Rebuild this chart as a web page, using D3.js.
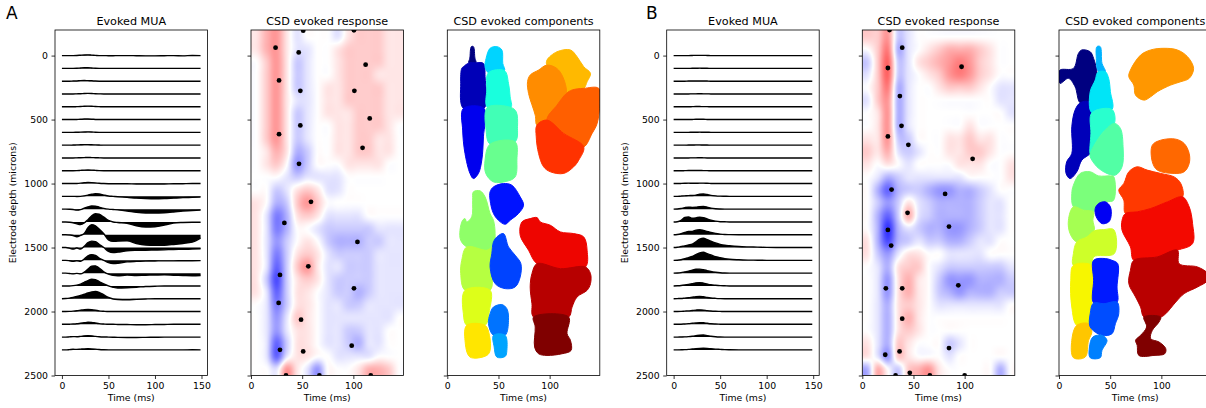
<!DOCTYPE html>
<html>
<head>
<meta charset="utf-8">
<script src="https://cdn.jsdelivr.net/npm/d3@7"></script>
<style>
  body { margin: 0; background: #fff; }
  svg { display: block; }
  text { font-family: "DejaVu Sans", sans-serif; fill: #000; }
</style>
</head>
<body>
<script>
// ---- data ----
const channelDepths = [0,100,200,300,400,500,600,700,800,900,1000,1100,1200,1300,1400,1500,1600,1700,1800,1900,2000,2100,2200,2300];
const depthTicks = [0,500,1000,1500,2000,2500];
const muaTicks = [0,50,100,150];
const csdTicks = [0,50,100];

// MUA sample times (ms) and amplitude per channel (microns, up = positive)
const muaTime = [0,4,8,12,16,20,24,28,32,36,40,45,50,55,60,70,80,90,100,110,120,130,140,149];
const muaA = [
  [0,0,0,0,1,3,5,6,4,2,0,0,-1,-1,0,0,-1,-2,-2,-1,0,-2,1,0],
  [0,0,0,0,1,3,5,5,3,1,0,0,0,0,0,0,0,0,0,0,0,0,0,0],
  [0,0,0,1,2,4,5,4,3,1,0,0,0,0,0,0,0,0,0,0,0,0,0,0],
  [0,0,0,0,1,2,4,5,4,2,1,0,0,0,0,0,0,0,0,0,0,0,0,0],
  [0,0,0,0,1,2,4,5,4,2,1,0,0,0,0,0,0,0,0,0,0,0,0,0],
  [0,0,0,0,1,2,4,4,3,1,0,0,0,0,0,0,0,0,0,0,0,0,0,0],
  [0,0,0,0,1,2,3,4,3,1,0,0,0,0,0,0,0,0,0,0,0,0,0,0],
  [0,0,0,1,2,3,4,4,3,2,1,0,0,0,0,0,0,0,0,0,0,0,0,0],
  [0,0,0,0,1,2,3,4,3,2,1,0,0,0,0,0,0,0,0,0,0,0,0,0],
  [0,0,0,0,1,3,5,6,5,3,1,0,0,0,0,0,0,0,0,0,0,0,0,0],
  [0,0,0,0,1,3,6,8,7,5,2,0,-1,-1,-1,-2,-3,-4,-4,-3,-2,-1,0,0],
  [0,0,0,0,-1,0,4,10,16,20,18,10,3,0,-3,-8,-14,-18,-20,-18,-14,-10,-8,-6],
  [0,0,-1,-3,-8,-4,8,18,25,24,16,6,0,-3,-6,-14,-24,-30,-31,-28,-22,-15,-10,-8],
  [0,0,-2,-6,-15,-21,-8,18,48,64,60,38,12,0,-4,-10,-30,-40,-38,-25,-8,-4,-2,-2],
  [0,0,-2,-6,-16,-5,10,55,78,70,45,8,-40,-52,-50,-48,-68,-80,-83,-82,-76,-68,-58,-26],
  [0,0,-5,-12,-4,-12,10,38,50,45,25,0,-30,-39,-36,-25,-22,-21,-20,-18,-15,-14,-12,-10],
  [0,0,-3,-8,-3,-8,10,35,45,38,18,0,-18,-26,-24,-12,-8,-6,-5,-4,-4,-3,-3,-2],
  [0,0,-3,-6,-2,-6,8,32,55,57,40,10,-8,-18,-21,-15,-18,-16,-15,-14,-16,-18,-20,-18],
  [0,0,0,2,6,14,28,42,52,48,34,15,0,-10,-16,-14,-10,-5,-2,0,0,0,0,0],
  [0,2,5,10,17,25,35,45,53,57,50,30,10,-2,-6,-8,-5,-2,0,0,0,0,0,0],
  [0,0,1,3,6,10,14,16,14,10,5,2,0,0,0,0,0,0,0,0,0,0,0,0],
  [0,0,1,2,4,8,12,16,15,10,5,2,0,0,-1,-2,-3,-3,-2,-1,0,0,0,0],
  [0,0,2,4,3,6,10,12,10,6,3,1,0,-1,-2,-3,-3,-2,-1,0,0,0,0,0],
  [0,0,2,5,4,6,8,9,8,6,3,1,0,0,0,0,0,0,0,0,0,0,1,0]
];
const muaB = [
  [0,0,0,0,0,1,2,2,2,1,0,0,0,0,0,0,0,0,0,0,0,0,0,0],
  [0,0,0,0,0,1,1,2,1,1,0,0,0,0,0,0,0,0,0,0,0,0,0,0],
  [0,0,0,0,1,1,2,2,2,1,0,0,0,0,0,0,0,0,0,0,0,0,0,0],
  [0,0,0,0,0,1,1,2,1,1,0,0,0,0,0,0,0,0,0,0,0,0,0,0],
  [0,0,0,0,0,1,2,2,1,1,0,0,0,0,0,0,0,0,0,0,0,0,0,0],
  [0,0,0,0,0,1,2,2,2,1,0,0,0,0,0,0,0,0,0,0,0,0,0,0],
  [0,0,0,0,0,1,1,2,1,1,0,0,0,0,0,0,0,0,0,0,0,0,0,0],
  [0,0,0,0,1,1,2,2,1,1,0,0,0,0,0,0,0,0,0,0,0,0,0,0],
  [0,0,0,0,0,1,1,2,1,0,0,0,0,0,0,0,0,0,0,0,0,0,0,0],
  [0,0,0,1,2,2,2,2,1,1,0,0,0,0,0,0,0,0,0,0,0,0,0,0],
  [0,0,1,2,3,2,2,3,3,2,1,0,0,0,0,0,0,0,0,0,0,0,0,0],
  [0,0,2,4,6,7,10,16,18,14,8,4,2,1,0,0,0,0,0,0,0,0,0,0],
  [0,1,5,12,16,14,15,20,21,16,8,3,1,0,0,0,0,0,0,0,0,0,0,0],
  [0,2,12,35,39,30,32,37,34,24,14,6,2,1,0,0,0,0,0,0,0,0,0,0],
  [0,2,8,18,26,26,36,39,34,26,18,10,5,2,1,0,0,0,0,0,0,0,0,0],
  [0,2,8,13,20,26,45,65,73,62,50,36,25,18,14,8,5,3,1,0,0,0,0,0],
  [0,1,5,12,21,30,45,58,63,52,42,28,20,13,8,4,2,1,0,0,0,0,0,0],
  [0,1,4,10,16,24,30,31,27,20,13,7,3,1,0,0,0,0,0,0,0,0,0,0],
  [0,1,3,7,12,18,24,26,22,15,9,5,2,1,0,0,0,0,0,0,0,0,0,0],
  [0,1,2,5,8,12,16,18,15,10,6,3,1,0,0,0,0,0,0,0,0,0,0,0],
  [0,0,1,3,5,8,11,13,11,7,4,2,1,0,0,0,0,0,0,0,0,0,0,0],
  [0,0,1,3,5,8,11,13,12,8,4,2,1,0,0,0,0,0,0,0,0,0,0,0],
  [0,0,1,2,4,7,11,15,16,12,7,3,1,0,0,0,0,0,0,0,0,0,0,0],
  [0,0,1,2,4,7,10,12,13,12,9,6,4,2,1,0,0,0,0,0,0,0,0,0]
];

// CSD grid: cell centres in time (ms) and depth (microns), values in tenths (+ red / - blue)
const csdTime = [5,15,25,35,45,55,65,75,85,95,105,115,125,135,145];
const csdDepth = [-150,-50,50,150,250,350,450,550,650,750,850,950,1050,1150,1250,1350,1450,1550,1650,1750,1850,1950,2050,2150,2250,2350,2450];
const csdA = [
  [1,3,4,1,-1,0,0,0,-1,1,2,2,2,1,1],
  [1,3,4,1,-1,-1,0,0,1,2,2,2,2,1,1],
  [0,2,4,1,-2,-1,0,0,1,2,2,2,2,1,1],
  [0,2,4,1,-2,-1,0,0,1,2,2,2,1,1,1],
  [0,2,4,1,-2,-1,0,1,1,2,2,2,2,1,1],
  [0,2,4,1,-1,-1,0,1,1,2,2,2,2,1,1],
  [0,2,4,1,-2,-1,0,1,1,1,2,2,2,1,1],
  [0,2,4,1,-2,-1,0,0,1,1,2,2,2,1,0],
  [0,2,4,1,-2,-1,0,0,1,1,2,2,1,1,0],
  [0,1,3,1,-3,-2,0,0,1,1,2,2,1,1,0],
  [0,1,2,0,-4,-2,0,0,0,1,1,1,1,0,0],
  [0,0,0,-1,-2,-1,-1,-1,-1,0,0,0,0,0,0],
  [0,0,-2,-1,1,2,1,-1,-1,0,0,0,0,0,0],
  [1,0,-3,-2,2,4,2,0,0,0,0,0,0,0,0],
  [1,-1,-5,-3,1,2,1,-1,-1,-1,-1,0,0,0,0],
  [1,-1,-5,-3,0,0,-1,-2,-2,-2,-2,-2,-1,-1,-1],
  [1,-1,-4,-2,0,1,0,-2,-3,-3,-3,-2,-2,-1,-1],
  [1,-1,-5,-2,1,2,1,-1,-2,-2,-2,-2,-1,-1,-1],
  [1,-1,-6,-2,2,4,1,-1,-1,-2,-2,-2,-1,-1,-1],
  [1,-2,-7,-2,1,2,1,-1,-2,-2,-2,-2,-1,-1,-1],
  [1,-1,-6,-2,1,1,0,-1,-2,-2,-3,-2,-1,-1,-1],
  [0,-1,-5,-2,1,1,0,-1,-1,-2,-2,-1,-1,-1,-1],
  [0,-1,-4,-1,2,1,0,-1,-1,-1,-1,-1,-1,-1,0],
  [0,-1,-4,-1,1,1,0,-1,-1,-2,-2,-1,-1,0,0],
  [0,-1,-6,-2,1,1,0,-1,-1,-2,-3,-1,-1,0,0],
  [0,-1,-6,-1,1,1,0,0,-1,-1,-1,-1,0,0,0],
  [0,0,-1,4,1,-1,-4,0,0,0,1,3,3,2,0]
];
const csdB = [
  [2,2,4,-2,-1,0,0,0,0,0,0,0,0,0,0],
  [0,2,5,-3,-1,0,1,2,3,3,3,2,1,0,0],
  [-2,2,6,-2,-1,1,2,3,4,5,4,2,1,0,0],
  [-1,2,6,-2,-1,0,1,2,4,5,4,2,1,0,0],
  [0,2,5,-3,-1,0,0,1,2,2,2,1,0,-1,-1],
  [-1,2,4,-3,-1,0,0,0,0,0,0,0,0,-1,-1],
  [0,1,4,-3,-1,0,0,0,0,0,0,0,0,0,-1],
  [0,1,4,-3,-1,0,0,0,0,0,1,0,0,0,0],
  [1,1,4,-2,-2,0,0,0,1,1,2,1,1,0,0],
  [2,1,3,-1,-2,-1,0,0,1,1,2,2,1,0,0],
  [1,0,1,0,-1,0,0,0,0,1,1,1,0,0,1],
  [0,-1,-3,-2,-1,-1,-1,-1,-1,-1,0,0,0,0,1],
  [0,-3,-6,-3,-2,-2,-3,-4,-4,-3,-3,-2,-1,0,0],
  [0,-2,-4,-2,1,-1,-2,-3,-3,-3,-3,-2,-1,-1,0],
  [0,-3,-6,-2,3,-1,-2,-3,-3,-3,-3,-2,-1,-1,0],
  [0,-3,-8,-3,-1,-2,-3,-3,-4,-4,-3,-2,-1,-1,0],
  [1,-3,-7,-3,-2,-1,-2,-2,-3,-3,-2,-1,-1,0,0],
  [1,-2,-4,-1,1,1,0,0,-1,-1,-1,-1,0,0,0],
  [0,-1,-3,1,2,2,0,-1,-2,-2,-2,-2,-2,-2,-1],
  [0,-1,-4,1,3,1,0,-2,-4,-4,-4,-3,-3,-3,-2],
  [0,-1,-4,1,3,1,0,-2,-3,-4,-3,-3,-3,-2,-2],
  [0,-1,-3,1,2,1,0,-1,-1,-1,-1,-1,-1,-1,0],
  [0,-1,-3,1,3,1,0,0,0,0,0,0,0,0,0],
  [0,-1,-3,1,2,1,0,0,0,0,0,0,0,0,0],
  [1,-1,-3,2,1,0,0,0,-2,-1,0,0,0,0,0],
  [1,-1,-4,2,1,0,0,0,-1,0,0,0,0,0,0],
  [-3,3,0,-2,2,3,4,1,0,0,0,0,0,-3,0]
];

// CSD peak locations [time ms, depth microns]
const peaksA = [[51,-195],[100.6,-198],[24,-62],[46.6,-25],[112,71],[27.4,194],[48.2,275],[101,275],[116,491],[48.2,546],[27.4,614],[109,721],[46.9,846],[58.6,1143],[32.6,1308],[104,1456],[56,1647],[28.3,1714],[100.6,1819],[27,1933],[48.9,2064],[98.4,2267],[28.3,2299],[51,2312],[34.2,2500],[66.8,2500],[117,2500]];
const peaksB = [[26.6,-200],[39,-62],[25,97],[97,87],[36.7,316],[38.3,549],[25,632],[45,697],[107.8,807],[28.6,1047],[80.9,1081],[44.2,1229],[25,1362],[84.7,1336],[28.2,1485],[23,1819],[39,1819],[93.8,1795],[39,2056],[84.7,2286],[36.4,2312],[22.4,2338],[46.4,2479],[32.5,2500],[66,2500],[100,2500]];

// CSD components: label index and outline [time ms, depth microns]
const compA = [
  {k:0, p:[[23.5,-70],[25.5,-70],[27,20],[28,56],[21,56],[22,20]]},
  {k:1, p:[[14.1,100],[15.7,87],[21.6,56],[28.1,56],[35.3,61],[36.9,165],[35.9,413],[15.7,413],[13.1,217]]},
  {k:2, p:[[15.7,413],[35.9,413],[35.3,635],[33.7,817],[30.4,921],[25.5,961],[22.2,921],[17.3,765],[15,582]]},
  {k:7, p:[[41.8,-57],[48.4,-70],[53.3,-44],[54.2,61],[55.9,118],[40.2,134],[36.9,87],[37.9,22]]},
  {k:8, p:[[40.2,134],[55.9,118],[59.8,217],[61.4,322],[62.1,405],[39.2,405],[38.6,269]]},
  {k:9, p:[[39.2,405],[62.1,405],[67.3,439],[68.6,556],[66.3,674],[41.8,692],[37.9,582]]},
  {k:10, p:[[41.8,692],[66.3,674],[68,817],[66.3,948],[58.2,982],[45.1,987],[37.6,921],[36.9,817]]},
  {k:15, p:[[97.4,35],[107.2,-30],[120.3,-44],[126.8,9],[133.3,87],[139.9,139],[136.6,204],[133.3,256],[121.9,269],[116.3,296],[108.8,113],[97.4,74]]},
  {k:16, p:[[78.4,204],[81,152],[89.2,113],[97.4,74],[108.8,113],[116.3,296],[107.2,387],[97.4,504],[87.6,543],[85.9,465],[79.4,296]]},
  {k:17, p:[[116.3,296],[121.9,269],[133.3,256],[148,256],[149,374],[146.4,530],[141.5,608],[133.3,713],[123.5,674],[113.7,608],[97.4,504],[107.2,387]]},
  {k:18, p:[[87.6,543],[97.4,504],[113.7,608],[133.3,713],[128.4,817],[123.5,869],[113.7,921],[100.7,908],[94.1,869],[89.2,765],[86.9,635]]},
  {k:11, p:[[25.5,1065],[32,1057],[36.9,1104],[41.8,1234],[45.1,1287],[46.7,1391],[45.1,1495],[38.6,1521],[19,1495],[13.1,1443],[12.4,1365],[15,1287],[17.3,1274],[19,1300],[23.9,1260],[24.8,1130]]},
  {k:12, p:[[19,1495],[38.6,1521],[45.1,1495],[43.5,1652],[41.8,1834],[17.3,1834],[13.1,1704],[14.1,1600]]},
  {k:13, p:[[17.3,1834],[41.8,1834],[41.2,1991],[36.9,2108],[19,2108],[15.7,2017]]},
  {k:14, p:[[19,2108],[36.9,2108],[41.2,2186],[41.8,2304],[38.6,2343],[22.2,2356],[17.3,2225]]},
  {k:3, p:[[45.1,1026],[54.9,1000],[63.1,1013],[71.2,1104],[74.5,1169],[69.6,1234],[61.4,1287],[56.5,1318],[50,1287],[45.1,1234],[41.8,1130],[41.8,1065]]},
  {k:4, p:[[48.4,1417],[54.9,1391],[59.8,1495],[66.3,1560],[71.9,1626],[71.2,1730],[66.3,1808],[56.5,1821],[46.7,1782],[41.8,1652],[43.5,1547],[45.1,1456]]},
  {k:5, p:[[45.1,1965],[53.3,1946],[58.2,1978],[59.8,2069],[56.5,2186],[45.1,2186],[40.2,2095],[41.8,2017]]},
  {k:6, p:[[45.1,2186],[56.5,2186],[58.2,2304],[56.5,2351],[48.4,2356],[45.8,2277]]},
  {k:19, p:[[72.9,1300],[81,1274],[87.6,1266],[90.9,1300],[100.7,1326],[110.5,1378],[123.5,1391],[133.3,1417],[136.6,1521],[135,1652],[110.5,1665],[87.6,1626],[79.4,1521],[71.2,1404]]},
  {k:20, p:[[87.6,1626],[110.5,1665],[135,1652],[139.9,1704],[139.9,1782],[136.6,1834],[126.8,1886],[121.9,1965],[118.6,2043],[84.3,2043],[82.7,1939],[81,1808],[82.7,1704]]},
  {k:21, p:[[84.3,2043],[118.6,2043],[117,2173],[120.3,2225],[120.9,2304],[112.1,2330],[97.4,2343],[89.2,2330],[85.3,2277],[85.9,2121]]}
];
const compB = [
  {k:0, p:[[1,113],[14.1,100],[19,-17],[22.3,-44],[30.5,-30],[33.8,22],[37.1,139],[35.4,191],[30.5,282],[28.9,361],[20.7,369],[15.7,243],[9.2,178],[1,217],[-1,165]]},
  {k:1, p:[[20.7,369],[28.9,361],[32.1,452],[33.8,582],[33.1,713],[30.5,765],[22.3,817],[17.4,908],[10.8,961],[6.9,921],[7.5,830],[12.5,765],[12.5,556],[15.7,426]]},
  {k:6, p:[[37.1,-70],[40.3,-70],[42,61],[45.3,126],[38.7,126],[36.4,9]]},
  {k:7, p:[[38.7,126],[45.3,126],[48.5,178],[50.2,282],[51.8,421],[32.1,447],[30.5,282],[35.4,191],[37.1,139]]},
  {k:8, p:[[32.1,447],[51.8,421],[54.1,530],[43.6,595],[35.4,687],[30.5,765],[31.2,608]]},
  {k:9, p:[[54.1,530],[60,569],[62.6,713],[61.6,869],[55.1,934],[46.9,921],[37.1,869],[30.5,791],[30.5,765],[35.4,687],[43.6,595]]},
  {k:10, p:[[14.1,1013],[20.7,921],[30.5,908],[38.7,940],[50.2,940],[53.4,945],[53.4,1130],[46.9,1143],[38.7,1169],[33.8,1221],[23.9,1208],[14.1,1182],[12.5,1078]]},
  {k:11, p:[[14.1,1182],[23.9,1208],[33.8,1221],[33.1,1287],[34.4,1365],[27.2,1417],[17.4,1456],[10.8,1391],[9.2,1287]]},
  {k:12, p:[[17.4,1456],[27.2,1417],[34.4,1370],[43.6,1360],[53.4,1360],[54.1,1547],[33.8,1573],[32.1,1639],[14.1,1639],[14.1,1547]]},
  {k:13, p:[[14.1,1639],[32.1,1639],[33.8,1756],[32.1,1939],[28.9,2095],[17.4,2108],[12.5,1965],[11.5,1756]]},
  {k:14, p:[[17.4,2108],[28.9,2095],[32.1,2160],[28.9,2225],[25.6,2356],[14.1,2361],[12.5,2225]]},
  {k:3, p:[[33.8,1600],[45.3,1586],[51.8,1600],[57.4,1626],[56.7,1808],[56.7,1926],[43.6,1939],[33.8,1933],[33.8,1756]]},
  {k:4, p:[[33.8,1933],[43.6,1939],[56.7,1926],[58.4,2017],[55.1,2095],[51.8,2173],[42,2186],[30.5,2121],[30.5,2017]]},
  {k:5, p:[[33.1,2199],[42,2186],[46.9,2225],[42,2304],[40.3,2361],[30.5,2361],[29.8,2277]]},
  {k:2, p:[[38.7,1156],[45.3,1143],[50.2,1182],[50.8,1260],[48.5,1300],[42,1313],[36.4,1260],[35.4,1195]]},
  {k:15, p:[[69.8,113],[79.7,-4],[89.5,-44],[102.6,-57],[115.7,-44],[125.6,9],[131.5,100],[127.2,178],[119,204],[109.2,230],[96.1,282],[89.5,322],[83,348],[74.8,309],[73.1,230],[68.2,165]]},
  {k:16, p:[[91.2,700],[99.4,661],[114.1,653],[122.3,687],[127.2,765],[127.2,843],[122.3,908],[112.5,921],[96.1,895],[91.2,830]]},
  {k:17, p:[[63.3,1000],[68.2,908],[76.4,869],[86.2,895],[99.4,921],[112.5,948],[119,1000],[120.7,1104],[105.9,1143],[89.5,1195],[76.4,1221],[64.9,1234],[63.3,1130],[58.4,1052]]},
  {k:18, p:[[64.9,1234],[76.4,1221],[89.5,1195],[105.9,1143],[120.7,1104],[127.2,1182],[130.5,1313],[130.5,1469],[115.7,1521],[96.1,1573],[73.1,1600],[69.8,1495],[61.6,1365],[61.6,1287]]},
  {k:19, p:[[73.1,1600],[96.1,1573],[115.7,1521],[117.4,1626],[135.4,1652],[145.3,1704],[145.3,1756],[135.4,1808],[122.3,1860],[114.1,1926],[104.3,2017],[99.4,2043],[83,2043],[79.7,1965],[74.8,1886],[68.2,1782],[69.8,1678]]},
  {k:20, p:[[83,2043],[99.4,2043],[97.7,2082],[91.2,2147],[89.5,2212],[97.7,2238],[104.3,2290],[103.3,2330],[92.8,2343],[78,2343],[76.4,2264],[74.8,2225],[79.7,2186],[85.6,2121]]}
];

function main(){
    const width = 1206, height = 408;
    const axW = 152.5;
    const top = 30, bottom = 375.5;

    const svg = d3.select("body").append("svg")
        .attr("width", width)
        .attr("height", height);

    const y = d3.scaleLinear().domain([-200, 2500]).range([top, bottom]);

    // blue-white-red like matplotlib bwr
    const bwr = d3.scaleLinear().domain([-1, 0, 1]).range(["#0000ff", "#ffffff", "#ff0000"]).clamp(true);
    // matplotlib jet
    const jetR = d3.scaleLinear().domain([0, 0.35, 0.66, 0.89, 1]).range([0, 0, 1, 1, 0.5]);
    const jetG = d3.scaleLinear().domain([0, 0.125, 0.375, 0.64, 0.91, 1]).range([0, 0, 1, 1, 0, 0]);
    const jetB = d3.scaleLinear().domain([0, 0.11, 0.34, 0.65, 1]).range([0.5, 1, 1, 0, 0]);
    const jet = v => d3.rgb(jetR(v) * 255, jetG(v) * 255, jetB(v) * 255).formatHex();

    let clipId = 0;

    function frame(left, title, xTicks, xDomain, showYLabels){
        const x = d3.scaleLinear().domain(xDomain).range([left, left + axW]);
        const id = "clip" + (clipId++);
        svg.append("clipPath").attr("id", id)
            .append("rect").attr("x", left).attr("y", top)
            .attr("width", axW).attr("height", bottom - top);
        const g = svg.append("g").attr("clip-path", "url(#" + id + ")");

        svg.append("text")
            .attr("x", left + axW / 2).attr("y", top - 5.5)
            .attr("text-anchor", "middle").attr("font-size", "11.2px")
            .text(title);

        const xa = svg.append("g")
            .attr("transform", "translate(0," + bottom + ")")
            .call(d3.axisBottom(x).tickValues(xTicks).tickSize(3.5).tickPadding(3.5).tickFormat(d3.format("d")));
        const ya = svg.append("g")
            .attr("transform", "translate(" + left + ",0)")
            .call(d3.axisLeft(y).tickValues(depthTicks).tickSize(3.5).tickPadding(3.5)
                .tickFormat(showYLabels ? d3.format("d") : ""));
        [xa, ya].forEach(a => {
            a.select(".domain").remove();
            a.selectAll("line").attr("stroke", "#000").attr("stroke-width", 0.8);
            a.selectAll("text").attr("font-size", "9.3px").attr("font-family", "DejaVu Sans, sans-serif").attr("fill", "#000");
        });

        svg.append("text")
            .attr("x", left + axW / 2).attr("y", 401)
            .attr("text-anchor", "middle").attr("font-size", "9.3px")
            .text("Time (ms)");

        if (showYLabels) {
            svg.append("text")
                .attr("transform", "translate(" + (left - 39) + "," + ((top + bottom) / 2) + ") rotate(-90)")
                .attr("text-anchor", "middle").attr("font-size", "9.3px")
                .text("Electrode depth (microns)");
        }

        const spine = () => svg.append("rect")
            .attr("x", left).attr("y", top)
            .attr("width", axW).attr("height", bottom - top)
            .attr("fill", "none").attr("stroke", "#000").attr("stroke-width", 0.8);
        return {x, g, spine};
    }

    function muaPanel(left, traces){
        const {x, g, spine} = frame(left, "Evoked MUA", muaTicks, [-7.45, 156.45], true);
        channelDepths.forEach((d, i) => {
            const pts = muaTime.map((t, j) => [t, traces[i][j]]);
            const area = d3.area()
                .x(p => x(p[0])).y0(y(d)).y1(p => y(d - p[1]))
                .curve(d3.curveMonotoneX);
            const line = d3.line()
                .x(p => x(p[0])).y(p => y(d - p[1]))
                .curve(d3.curveMonotoneX);
            g.append("path").attr("d", area(pts)).attr("fill", "#000");
            g.append("path").attr("d", line(pts)).attr("fill", "none")
                .attr("stroke", "#000").attr("stroke-width", 1.4);
        });
        spine();
    }

    // smooth (Catmull-Rom) resampling of the CSD grid into a bitmap
    function cubic(p0, p1, p2, p3, t){
        return p1 + 0.5 * t * (p2 - p0 + t * (2 * p0 - 5 * p1 + 4 * p2 - p3 + t * (3 * (p1 - p2) + p3 - p0)));
    }

    function csdPanel(left, grid, peaks){
        const {x, g, spine} = frame(left, "CSD evoked response", csdTicks, [0, 149], false);
        const rows = csdDepth.length, cols = csdTime.length;
        const step = csdTime[1] - csdTime[0], dstep = csdDepth[1] - csdDepth[0];
        const x0 = x(csdTime[0] - step / 2), x1 = x(csdTime[cols - 1] + step / 2);
        const y0 = y(csdDepth[0] - dstep / 2), y1 = y(csdDepth[rows - 1] + dstep / 2);
        const W = Math.round(x1 - x0), H = Math.round(y1 - y0);
        const cv = document.createElement("canvas");
        cv.width = W; cv.height = H;
        const ctx = cv.getContext("2d");
        const img = ctx.createImageData(W, H);
        const at = (i, j) => grid[Math.max(0, Math.min(rows - 1, i))][Math.max(0, Math.min(cols - 1, j))] / 10;
        for (let py = 0; py < H; py++) {
            const v = (py + 0.5) / H * rows - 0.5;
            const i = Math.floor(v), fv = v - i;
            for (let px = 0; px < W; px++) {
                const u = (px + 0.5) / W * cols - 0.5;
                const j = Math.floor(u), fu = u - j;
                const r = [-1, 0, 1, 2].map(di =>
                    cubic(at(i + di, j - 1), at(i + di, j), at(i + di, j + 1), at(i + di, j + 2), fu));
                const val = cubic(r[0], r[1], r[2], r[3], fv);
                const c = d3.rgb(bwr(val));
                const k = (py * W + px) * 4;
                img.data[k] = c.r; img.data[k + 1] = c.g; img.data[k + 2] = c.b; img.data[k + 3] = 255;
            }
        }
        ctx.putImageData(img, 0, 0);

        g.append("image")
            .attr("href", cv.toDataURL())
            .attr("x", x0).attr("y", y0)
            .attr("width", x1 - x0).attr("height", y1 - y0)
            .attr("preserveAspectRatio", "none");

        g.selectAll("circle.peak").data(peaks).enter().append("circle")
            .attr("class", "peak")
            .attr("cx", p => x(p[0])).attr("cy", p => y(p[1]))
            .attr("r", 2.4).attr("fill", "#000");
        spine();
    }

    function compPanel(left, comps){
        const {x, g, spine} = frame(left, "CSD evoked components", csdTicks, [0, 149], false);
        const n = d3.max(comps, c => c.k);
        const outline = d3.line().x(p => x(p[0])).y(p => y(p[1])).curve(d3.curveCatmullRomClosed.alpha(0.5));
        g.selectAll("path.comp").data(comps).enter().append("path")
            .attr("class", "comp")
            .attr("d", c => outline(c.p))
            .attr("fill", c => jet(c.k / n))
            .attr("stroke", c => jet(c.k / n))
            .attr("stroke-width", 1);
        spine();
    }

    muaPanel(55, muaA);
    csdPanel(251, csdA, peaksA);
    compPanel(447.3, compA);
    muaPanel(666.7, muaB);
    csdPanel(862.3, csdB, peaksB);
    compPanel(1059, compB);

    svg.append("text").attr("x", 6).attr("y", 19).attr("font-size", "17px").text("A");
    svg.append("text").attr("x", 646).attr("y", 19).attr("font-size", "17px").text("B");
}
main();
</script>
</body>
</html>
